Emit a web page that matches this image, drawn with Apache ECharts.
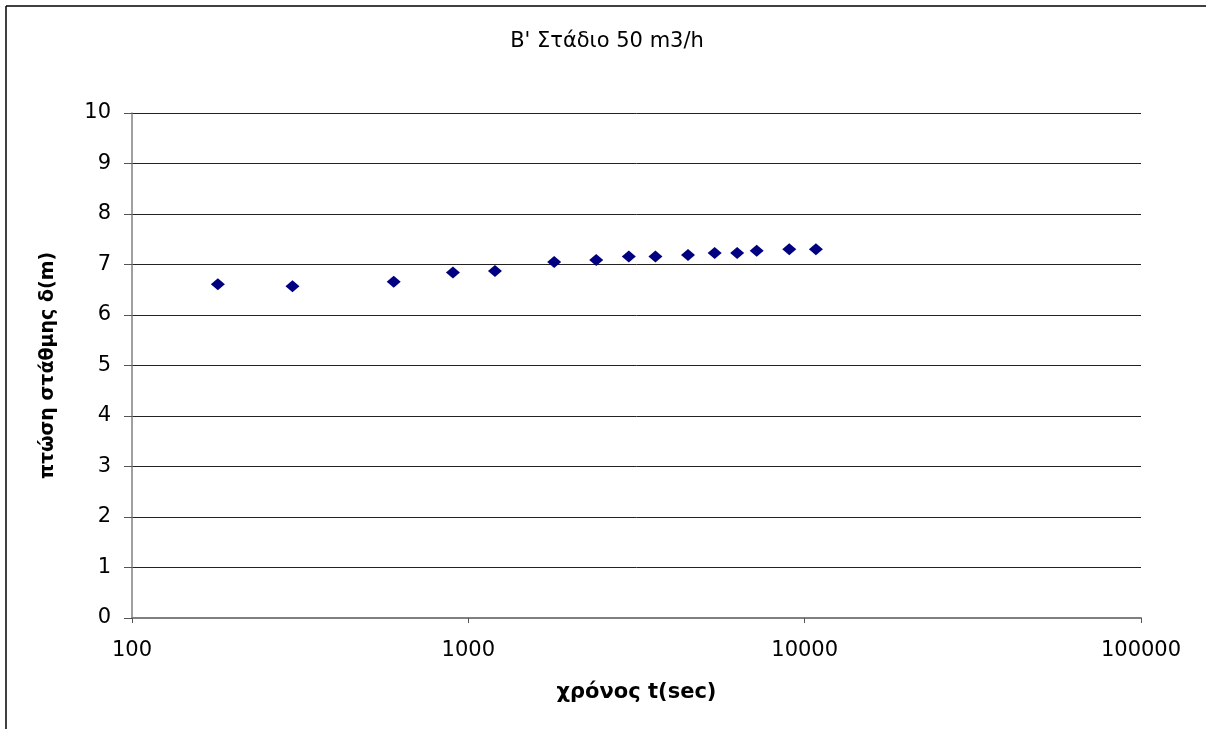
<!DOCTYPE html>
<html>
<head>
<meta charset="utf-8">
<script src="https://cdn.jsdelivr.net/npm/echarts@6/dist/echarts.min.js"></script>
<style>
  html, body { margin: 0; padding: 0; background: #fff; }
  #chart { width: 1206px; height: 729px; }
</style>
</head>
<body>
<div id="chart"></div>
<script>
// Time since pumping started (s) and drawdown (m), stage B at 50 m3/h
const times = [180, 300, 600, 900, 1200, 1800, 2400, 3000, 3600, 4500, 5400, 6300, 7200, 9000, 10800];
const drawdown = [6.61, 6.57, 6.66, 6.84, 6.87, 7.05, 7.09, 7.16, 7.16, 7.19, 7.23, 7.23, 7.27, 7.30, 7.30];

const titleText = "B' Στάδιο 50 m3/h";
const xTitle = 'χρόνος t(sec)';
const yTitle = 'πτώση στάθμης δ(m)';

const points = times.map((t, i) => [t, drawdown[i]]);

const font = '"DejaVu Sans", Arial, sans-serif';
const chart = echarts.init(document.getElementById('chart'), null, { renderer: 'canvas' });

chart.setOption({
  backgroundColor: '#ffffff',
  animation: false,
  grid: { left: 132, right: 65, top: 113, bottom: 111 },
  xAxis: {
    type: 'log',
    logBase: 10,
    min: 100,
    max: 100000,
    name: xTitle,
    nameLocation: 'middle',
    nameGap: 64,
    nameTextStyle: { fontFamily: font, fontSize: 21, fontWeight: 'bold', color: '#000' },
    axisLine: { show: true, lineStyle: { color: '#808080', width: 2 } },
    axisTick: { show: true, length: 5, inside: false, lineStyle: { color: '#555' } },
    minorTick: { show: false },
    axisLabel: {
      fontFamily: font, fontSize: 21, color: '#000', margin: 22,
      formatter: v => String(Math.round(v))
    },
    splitLine: { show: false }
  },
  yAxis: {
    type: 'value',
    min: 0,
    max: 10,
    interval: 1,
    name: yTitle,
    nameLocation: 'middle',
    nameGap: 74,
    nameTextStyle: { fontFamily: font, fontSize: 19, fontWeight: 'bold', color: '#000' },
    axisLine: { show: true, lineStyle: { color: '#808080', width: 1.5 } },
    axisTick: { show: true, length: 8, lineStyle: { color: '#555' } },
    axisLabel: { fontFamily: font, fontSize: 21, color: '#000', margin: 21 },
    splitLine: { show: true, lineStyle: { color: '#222', width: 1 } }
  },
  series: [{
    type: 'scatter',
    data: points,
    symbol: 'diamond',
    symbolSize: [14, 12],
    itemStyle: { color: '#000080', opacity: 1 }
  }],
  graphic: [
    { type: 'line', shape: { x1: 6, y1: 6, x2: 1206, y2: 6 }, style: { stroke: '#000', lineWidth: 1.5 } },
    { type: 'line', shape: { x1: 6, y1: 6, x2: 6, y2: 729 }, style: { stroke: '#000', lineWidth: 1.5 } },
    {
      type: 'text', x: 607, y: 42,
      style: {
        text: titleText, fontFamily: font, fontSize: 21, fill: '#000',
        textAlign: 'center', textVerticalAlign: 'middle'
      }
    }
  ]
});
</script>
</body>
</html>
